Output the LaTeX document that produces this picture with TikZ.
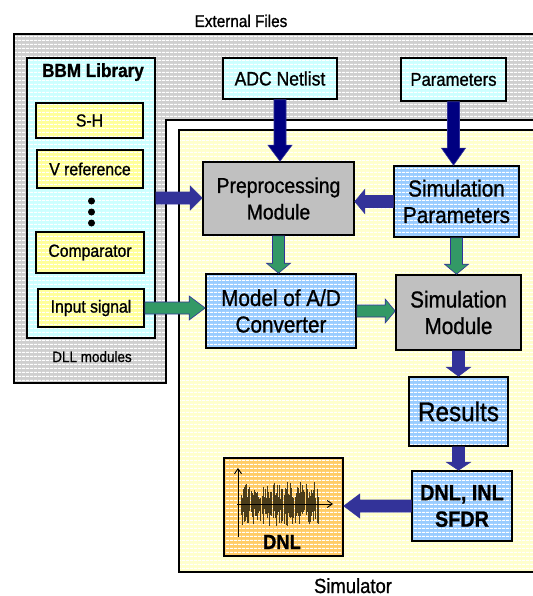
\documentclass[tikz,border=0pt]{standalone}
\usepackage{fontspec}
\setmainfont{Liberation Sans}[FakeStretch=0.9, FakeBold=1.0]
\usetikzlibrary{patterns.meta,calc,arrows.meta}
\definecolor{grayL}{HTML}{CFCFCF}
\definecolor{cyanL}{HTML}{CCFFFF}
\definecolor{yelL}{HTML}{FFFF99}
\definecolor{yelBG}{HTML}{FFFFCC}
\definecolor{blueL}{HTML}{99CCFF}
\definecolor{grayM}{HTML}{C0C0C0}
\definecolor{orangeL}{HTML}{FFCC66}
\definecolor{navy}{HTML}{000080}
\definecolor{indigo}{HTML}{333399}
\definecolor{greenA}{HTML}{339966}
\definecolor{noiseC}{HTML}{4A3C1A}
\newcommand\DownArr[4]{\path[#3] let \p1=(#1), \p2=(#2) in
  (\x1-6pt,\y1) -- (\x1+6pt,\y1) -- (\x1+6pt,\y2+#4) -- (\x1+12pt,\y2+#4) -- (\x1,\y2)
  -- (\x1-12pt,\y2+#4) -- (\x1-6pt,\y2+#4) -- cycle;}
\newcommand\RightArr[4]{\path[#3] let \p1=(#1), \p2=(#2) in
  (\x1,\y1+6pt) -- (\x2-#4,\y1+6pt) -- (\x2-#4,\y1+12pt) -- (\x2,\y1)
  -- (\x2-#4,\y1-12pt) -- (\x2-#4,\y1-6pt) -- (\x1,\y1-6pt) -- cycle;}
\newcommand\LeftArr[4]{\path[#3] let \p1=(#1), \p2=(#2) in
  (\x1,\y1+6pt) -- (\x2+#4,\y1+6pt) -- (\x2+#4,\y1+12pt) -- (\x2,\y1)
  -- (\x2+#4,\y1-12pt) -- (\x2+#4,\y1-6pt) -- (\x1,\y1-6pt) -- cycle;}
\tikzset{
  striped/.style={preaction={fill=#1}, pattern={Lines[angle=0,distance=4pt,line width=1.2pt]}, pattern color=white},
  box/.style={draw=black, line width=1.6pt, inner sep=0pt, align=center},
  bfont/.style={font=\fontsize{23}{26.5}\selectfont},
  sfont/.style={font=\fontsize{17.5}{20}\selectfont},
  navyarr/.style={fill=navy, draw=indigo, line width=0.6pt},
  indarr/.style={fill=indigo, draw=indigo, line width=0.6pt},
  grnarr/.style={fill=greenA, draw=indigo, line width=0.6pt},
  noise/.style={draw=noiseC, line width=0.75pt},
}
\begin{document}
\begin{tikzpicture}[x=1pt,y=-1pt]
\useasboundingbox (0,0) rectangle (532,596);
% Simulator background
\path[striped=yelBG, draw=black, line width=1.5pt] (179,130) rectangle (545,572);
% External files container (notched)
\path[striped=grayL, draw=black, line width=1.5pt] (14,34) -- (545,34) -- (545,120) -- (166,120) -- (166,383) -- (14,383) -- cycle;
\node[anchor=base, font=\fontsize{17}{20}\selectfont] (extlbl) at (241,27) {External Files};
\node[anchor=base, font=\fontsize{20.5}{23}\selectfont] (simlbl) at (353,593) {Simulator};
% BBM library
\node[box, striped=cyanL, minimum width=128pt, minimum height=280pt] (bbm) at (91,198) {};
\node[anchor=base, font=\bfseries\fontsize{19}{22}\selectfont] (bbmlbl) at (93,77) {BBM Library};
\node[anchor=base, font=\fontsize{15}{17}\selectfont] (dlllbl) at (92,362) {DLL modules};
\node[box, striped=yelL, sfont, minimum width=107pt, minimum height=35pt] (sh) at (89.5,120.5) {S-H};
\node[box, striped=yelL, sfont, minimum width=106pt, minimum height=38pt] (vref) at (90,169) {V reference};
\node[box, striped=yelL, sfont, minimum width=108pt, minimum height=41pt] (comp) at (90,252.5) {Comparator};
\node[box, striped=yelL, sfont, minimum width=106pt, minimum height=38pt] (insig) at (91,308) {Input signal};
\fill (91.5,201) circle[radius=3.5pt];
\fill (91.5,212) circle[radius=3.5pt];
\fill (91.5,223) circle[radius=3.5pt];
% inputs
\node[box, striped=cyanL, font=\fontsize{19.5}{22}\selectfont, minimum width=114pt, minimum height=41pt] (adc) at (280,78.5) {ADC Netlist};
\node[box, striped=cyanL, font=\fontsize{18.5}{22}\selectfont, minimum width=105pt, minimum height=43pt] (par) at (453.5,79.5) {Parameters};
% simulator blocks
\node[box, fill=grayM, font=\fontsize{21.5}{26.5}\selectfont, minimum width=151pt, minimum height=73pt] (pre) at (278.5,198.5) {Preprocessing\\Module};
\node[box, striped=blueL, bfont, minimum width=125pt, minimum height=71pt] (simpar) at (456.5,201.5) {Simulation\\Parameters};
\node[box, striped=blueL, bfont, minimum width=150pt, minimum height=74pt] (model) at (281,311) {Model of A/D\\Converter};
\node[box, fill=grayM, bfont, minimum width=125pt, minimum height=75pt] (simmod) at (458.5,312.5) {Simulation\\Module};
\node[box, striped=blueL, font=\fontsize{27}{30}\selectfont, minimum width=99pt, minimum height=69pt] (res) at (458.5,411.5) {Results};
\node[box, striped=blueL, font=\bfseries\fontsize{22}{26.5}\selectfont, minimum width=100pt, minimum height=70pt] (dnlinl) at (462,506) {DNL, INL\\SFDR};
\node[box, striped=orangeL, minimum width=119pt, minimum height=98pt] (plot) at (283.5,507) {};
\node[anchor=base, font=\bfseries\fontsize{20.5}{23}\selectfont] (plotlbl) at (282,549) {DNL};
% noise plot
\pgfmathsetseed{42}
\foreach \i in {0,...,70} {
  \pgfmathsetmacro\xx{241+\i*1.1}
  \pgfmathsetmacro\up{5+17*rnd}
  \pgfmathsetmacro\dn{5+17*rnd}
  \draw[noise] (\xx,504-\up) -- (\xx,504+\dn);
}
\draw[line width=0.9pt, -{Straight Barb[length=5pt,width=7pt]}] (238,537) -- (238,468);
\draw[line width=0.9pt, -{Straight Barb[length=5pt,width=7pt]}] (237,504) -- (333,504);
% arrows
\DownArr{adc.south}{pre.north}{navyarr}{16pt}
\DownArr{par.south}{simpar.north}{navyarr}{17pt}
\RightArr{bbm.east}{pre.west}{indarr}{12pt}
\LeftArr{simpar.west}{pre.east}{indarr}{10pt}
\DownArr{pre.south}{model.north}{grnarr}{10pt}
\DownArr{simpar.south}{simmod.north}{grnarr}{10pt}
\RightArr{insig.east}{model.west}{grnarr}{16pt}
\RightArr{model.east}{simmod.west}{grnarr}{10pt}
\DownArr{simmod.south}{res.north}{indarr}{9pt}
\DownArr{res.south}{dnlinl.north}{indarr}{8pt}
\LeftArr{dnlinl.west}{plot.east}{indarr}{16pt}
\end{tikzpicture}
\end{document}
